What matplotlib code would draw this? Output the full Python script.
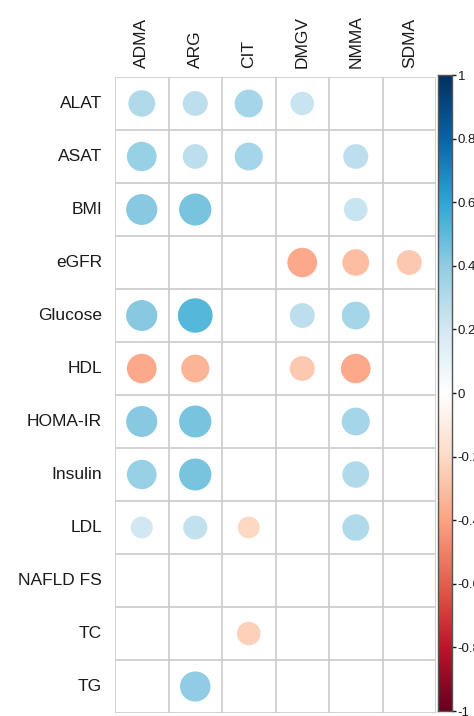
import numpy as np
import matplotlib
matplotlib.use("Agg")
import matplotlib.pyplot as plt
from matplotlib.colors import LinearSegmentedColormap
from matplotlib.patches import Circle

plt.rcParams["font.family"] = ["Liberation Sans", "DejaVu Sans"]

# Correlation data (rows = clinical variables, columns = metabolites)
row_labels = ["ALAT", "ASAT", "BMI", "eGFR", "Glucose", "HDL",
              "HOMA-IR", "Insulin", "LDL", "NAFLD FS", "TC", "TG"]
col_labels = ["ADMA", "ARG", "CIT", "DMGV", "NMMA", "SDMA"]

alat = [0.31, 0.27, 0.34, 0.24, 0.0, 0.0]
asat = [0.38, 0.27, 0.34, 0.0, 0.27, 0.0]
bmi = [0.42, 0.45, 0.0, 0.0, 0.24, 0.0]
egfr = [0.0, 0.0, 0.0, -0.38, -0.31, -0.27]
glucose = [0.42, 0.52, 0.0, 0.27, 0.34, 0.0]
hdl = [-0.38, -0.34, 0.0, -0.27, -0.38, 0.0]
homa_ir = [0.42, 0.45, 0.0, 0.0, 0.34, 0.0]
insulin = [0.38, 0.45, 0.0, 0.0, 0.31, 0.0]
ldl = [0.21, 0.25, -0.21, 0.0, 0.31, 0.0]
nafld_fs = [0.0, 0.0, 0.0, 0.0, 0.0, 0.0]
tc = [0.0, 0.0, -0.24, 0.0, 0.0, 0.0]
tg = [0.0, 0.40, 0.0, 0.0, 0.0, 0.0]

corr = np.array([alat, asat, bmi, egfr, glucose, hdl,
                 homa_ir, insulin, ldl, nafld_fs, tc, tg])

colors = ["#67001F", "#C0142C", "#E4604C", "#FBA483", "#FDDBC7", "#FFFFFF",
          "#D4E9F3", "#92CDE3", "#2DA8D3", "#0A64A8", "#053061"]
cmap = LinearSegmentedColormap.from_list("corr", colors)
norm = plt.Normalize(-1, 1)

W, H = 474, 716
fig = plt.figure(figsize=(W / 100, H / 100), dpi=100)

gx0, gx1, gy0, gy1 = 115, 436, 77, 713
ax = fig.add_axes([gx0 / W, 1 - gy1 / H, (gx1 - gx0) / W, (gy1 - gy0) / H])

nr, nc = corr.shape
ax.set_xlim(0, nc)
ax.set_ylim(nr, 0)

for i in range(nr):
    for j in range(nc):
        r = corr[i, j]
        rad = max(0.45 * np.sqrt(abs(r)), 0.012)
        ax.add_patch(Circle((j + 0.5, i + 0.5), rad, facecolor=cmap(norm(r)),
                            edgecolor="none"))

for k in range(nc + 1):
    ax.axvline(k, color="#CBCBCB", lw=1.2)
for k in range(nr + 1):
    ax.axhline(k, color="#CBCBCB", lw=1.2)

for s in ax.spines.values():
    s.set_visible(False)
ax.set_xticks([])
ax.set_yticks([])

for i, lab in enumerate(row_labels):
    ax.text(-0.24, i + 0.5, lab, ha="right", va="center", fontsize=12.5, color="#1a1a1a")
for j, lab in enumerate(col_labels):
    ax.text(j + 0.5, -0.17, lab, ha="center", va="bottom", rotation=90,
            fontsize=12.5, color="#1a1a1a")

# Colour bar
cx0, cx1, cy0, cy1 = 438, 452, 75, 711
cax = fig.add_axes([cx0 / W, 1 - cy1 / H, (cx1 - cx0) / W, (cy1 - cy0) / H])
grad = np.linspace(-1, 1, 256).reshape(-1, 1)
cax.imshow(grad, aspect="auto", cmap=cmap, norm=norm, origin="lower",
           extent=[0, 1, -1, 1])
cax.set_xticks([])
cbar_ticks = np.round(np.arange(-1, 1.01, 0.2), 1)
cax.yaxis.tick_right()
cax.set_yticks(cbar_ticks)
cax.set_yticklabels([f"{t:g}" if t != 0 else "0" for t in cbar_ticks])
cax.tick_params(axis="y", length=3, width=1, pad=1, labelsize=9.5, colors="#1a1a1a")
for s in cax.spines.values():
    s.set_color("#555555")
    s.set_linewidth(1)

fig.savefig("out.png", dpi=100)
